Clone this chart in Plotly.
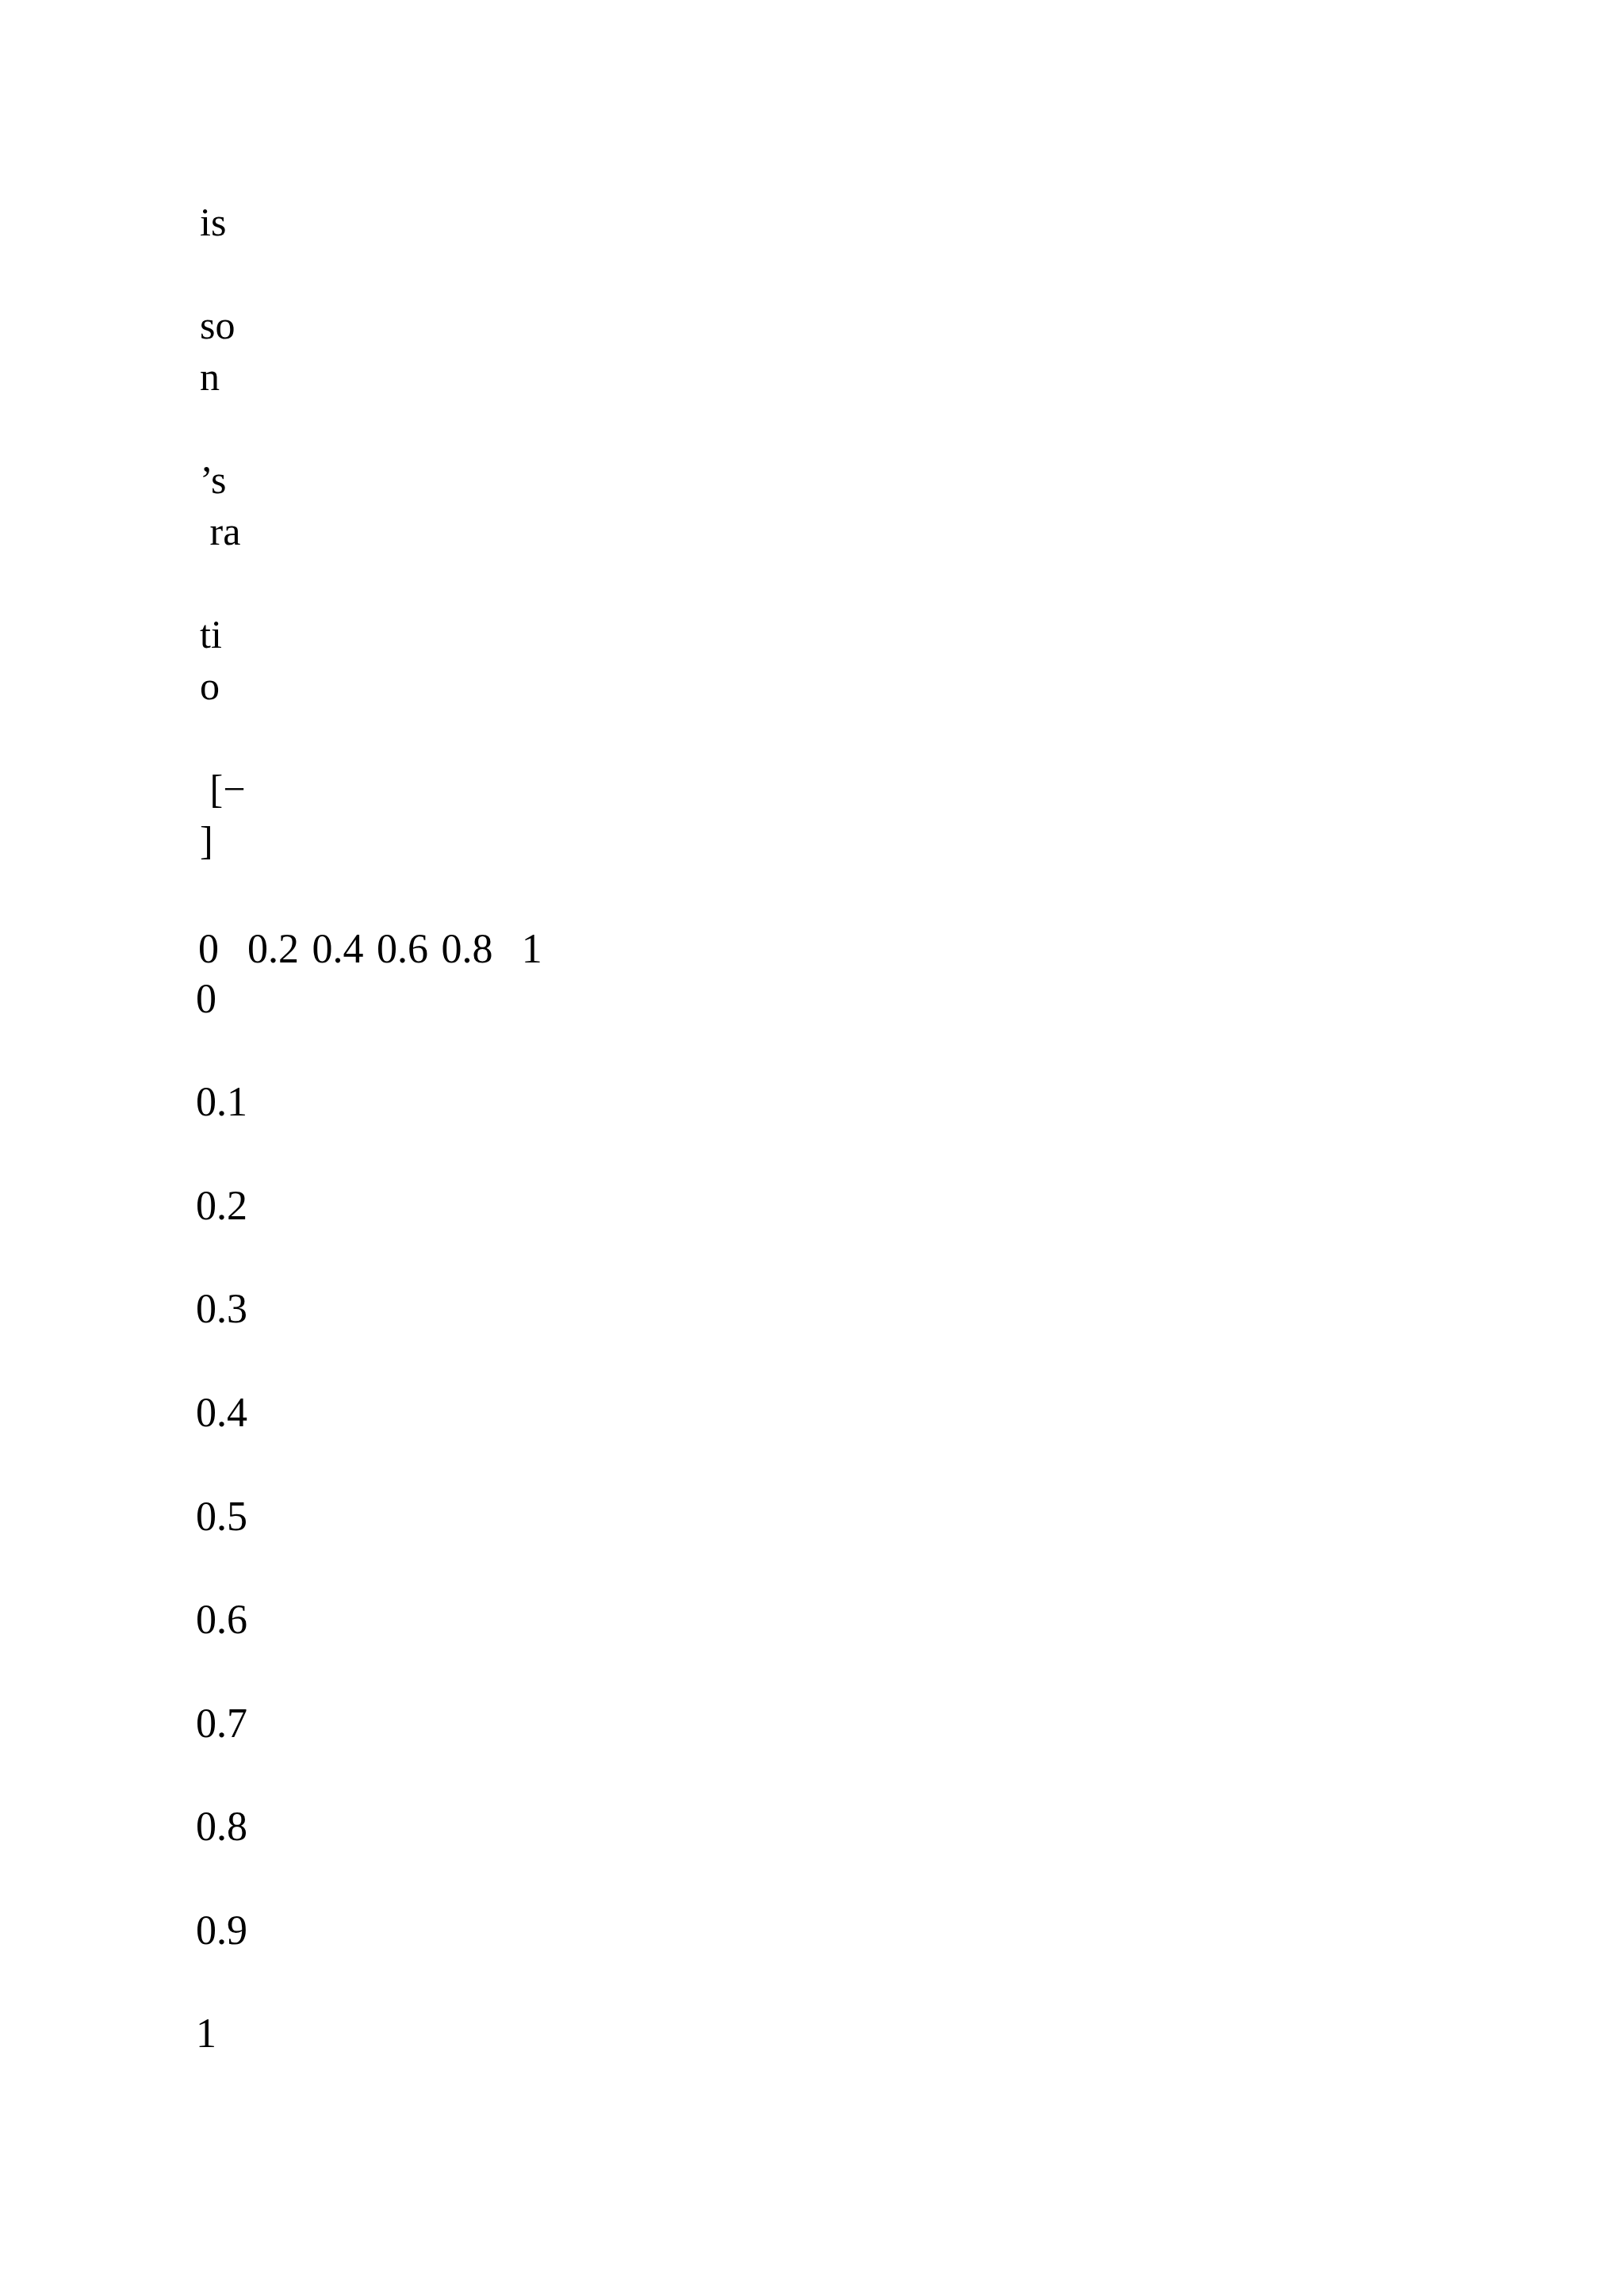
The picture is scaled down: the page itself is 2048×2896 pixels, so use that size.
"""Reste d'un graphique : titre d'axe Y fragmenté et graduations seules."""
import plotly.graph_objects as go

W, H = 2048, 2896
FONT = "Liberation Serif"

# fragments du titre d'axe Y ("Poisson's ratio [−]"), une entrée par ligne
TITLE_LINES = ["is", "", "so", "n", "", "’s", "\u00a0ra", "", "ti", "o", "", "\u00a0[−", "]"]

# graduations
X_TICKS = [0, 0.2, 0.4, 0.6, 0.8, 1]
X_LABELS = ["0", "0.2", "0.4", "0.6", "0.8", "1"]
Y_TICKS = [0, 0.1, 0.2, 0.3, 0.4, 0.5, 0.6, 0.7, 0.8, 0.9, 1]
Y_LABELS = ["0", "0.1", "0.2", "0.3", "0.4", "0.5", "0.6", "0.7", "0.8", "0.9", "1"]


def px_x(p):
    return p / W


def px_y(p):
    return 1 - p / H


fig = go.Figure()
fig.add_trace(go.Scatter(x=[], y=[], mode="markers", showlegend=False, hoverinfo="skip"))

fig.add_annotation(
    text="<br>".join(TITLE_LINES),
    xref="paper", yref="paper",
    x=px_x(232), y=px_y(218),
    xanchor="left", yanchor="top", align="left",
    showarrow=False,
    font=dict(family=FONT, size=50, color="black"),
)

fig.update_layout(
    width=W, height=H,
    margin=dict(l=0, r=0, t=0, b=0),
    paper_bgcolor="white",
    plot_bgcolor="white",
    showlegend=False,
    font=dict(family=FONT, size=52, color="black"),
    xaxis=dict(
        domain=[px_x(245), px_x(658)],
        range=[0, 1],
        anchor="free",
        position=px_y(1148),
        side="bottom",
        tickmode="array",
        tickvals=X_TICKS,
        ticktext=X_LABELS,
        ticks="",
        showline=False, showgrid=False, zeroline=False,
        tickfont=dict(family=FONT, size=52, color="black"),
    ),
    yaxis=dict(
        domain=[px_y(2579), px_y(1247)],
        range=[1, 0],
        anchor="free",
        position=px_x(228),
        side="right",
        tickmode="array",
        tickvals=Y_TICKS,
        ticktext=Y_LABELS,
        ticks="",
        showline=False, showgrid=False, zeroline=False,
        tickfont=dict(family=FONT, size=52, color="black"),
    ),
)

fig.write_html("out.html")
